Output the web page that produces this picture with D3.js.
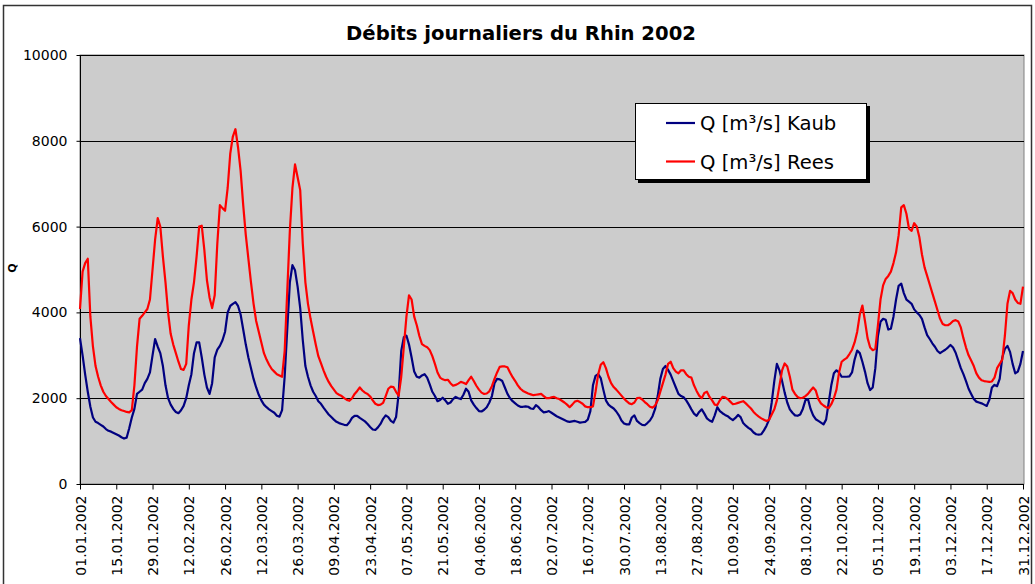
<!DOCTYPE html>
<html><head><meta charset="utf-8">
<script src="https://cdn.jsdelivr.net/npm/d3@7"></script>
<style>
body{margin:0;background:#fff}
svg{display:block}
text{font-family:"DejaVu Sans",Verdana,sans-serif;fill:#000}
</style>
</head><body>
<svg id="chart" width="1035" height="584"></svg>
<script>
const chartTitle = "Débits journaliers du Rhin 2002";
const yLabel = "Q";
const seriesNames = ["Q [m³/s] Kaub", "Q [m³/s] Rees"];
const seriesColors = ["#000080", "#ff0000"];
const startDate = [2002, 0, 1];
const yTicks = [0, 2000, 4000, 6000, 8000, 10000];
const tickStepDays = 14;

// daily discharge at Kaub, 01.01.2002 .. 31.12.2002
const kaub = [
3400,3000,2550,2150,1800,1550,1450,1420,1380,1340,1280,1240,1220,1190,
1160,1130,1090,1060,1080,1300,1550,1750,2100,2150,2200,2350,2450,2600,
3000,3380,3200,3050,2750,2300,2000,1850,1750,1680,1650,1720,1820,2000,
2300,2560,3050,3300,3300,2950,2550,2250,2100,2350,2950,3130,3220,3350,
3550,4000,4150,4200,4240,4150,3950,3600,3250,2950,2700,2450,2250,2080,
1950,1850,1790,1740,1700,1660,1590,1570,1720,2500,3600,4700,5100,4980,
4600,4100,3350,2750,2500,2300,2150,2050,1930,1870,1780,1700,1620,1560,
1500,1450,1420,1400,1380,1370,1440,1540,1590,1590,1540,1500,1460,1400,
1330,1270,1260,1320,1400,1520,1600,1560,1470,1430,1560,2100,3100,3420,
3460,3250,2950,2620,2500,2480,2530,2560,2480,2320,2150,2050,1930,1960,
2010,1950,1870,1900,1980,2030,2000,1980,2080,2220,2150,1950,1850,1770,
1700,1690,1730,1790,1900,2050,2350,2450,2440,2400,2250,2100,2000,1930,
1880,1830,1800,1800,1810,1800,1760,1750,1840,1790,1720,1670,1680,1700,
1660,1620,1580,1550,1520,1490,1460,1450,1460,1470,1450,1430,1440,1450,
1500,1700,2300,2520,2560,2470,2200,1950,1850,1800,1760,1690,1600,1480,
1410,1390,1390,1550,1600,1470,1420,1380,1370,1420,1480,1580,1750,2050,
2450,2680,2750,2660,2550,2400,2250,2100,2050,2020,1950,1850,1740,1640,
1590,1680,1740,1640,1530,1480,1450,1600,1790,1700,1650,1610,1580,1530,
1490,1540,1610,1560,1420,1360,1310,1270,1200,1160,1150,1160,1250,1360,
1500,1900,2400,2800,2650,2400,2130,1900,1740,1660,1600,1590,1620,1750,
1950,1980,1750,1600,1510,1470,1430,1390,1500,1900,2300,2580,2650,2600,
2500,2500,2500,2510,2600,2900,3110,3050,2850,2620,2350,2190,2250,2700,
3450,3780,3850,3830,3600,3620,3900,4300,4620,4670,4450,4300,4250,4200,
4070,4000,3940,3850,3650,3470,3380,3280,3200,3100,3050,3090,3130,3180,
3240,3180,3060,2880,2700,2560,2400,2220,2100,1980,1920,1900,1880,1850,
1820,1960,2250,2310,2280,2450,2950,3150,3220,3080,2800,2580,2620,2800,
3100
];

// daily discharge at Rees, 01.01.2002 .. 31.12.2002
const rees = [
4080,4950,5150,5250,3900,3200,2750,2500,2300,2150,2050,1980,1910,1850,
1790,1750,1720,1700,1680,1670,1720,2300,3200,3850,3920,4000,4080,4300,
5000,5700,6200,6000,5300,4700,4000,3500,3250,3050,2850,2680,2660,2800,
3700,4300,4700,5300,6000,6020,5450,4750,4350,4100,4400,5600,6500,6430,
6370,6900,7700,8100,8270,7850,7300,6500,5800,5250,4700,4200,3800,3550,
3300,3050,2900,2780,2680,2620,2560,2530,2500,3100,4500,5900,6900,7450,
7150,6850,5600,4700,4200,3850,3550,3250,2980,2820,2650,2500,2380,2280,
2200,2120,2080,2050,2000,1960,1940,2000,2100,2170,2250,2180,2130,2100,
2040,1950,1870,1840,1850,1890,2050,2220,2270,2260,2150,2060,2500,3200,
3900,4400,4300,3900,3700,3450,3260,3220,3190,3120,2980,2800,2600,2480,
2440,2420,2430,2350,2290,2310,2340,2380,2360,2330,2420,2500,2400,2290,
2200,2130,2100,2110,2160,2280,2450,2600,2730,2740,2740,2720,2600,2490,
2400,2300,2220,2170,2140,2110,2090,2070,2080,2090,2100,2050,2000,2000,
2020,2030,2000,1980,1940,1900,1850,1790,1850,1920,1940,1910,1870,1810,
1790,1790,1810,2150,2550,2780,2840,2700,2500,2350,2260,2200,2130,2060,
1990,1930,1880,1860,1900,2000,2010,1970,1910,1860,1800,1780,1830,1950,
2150,2350,2550,2800,2850,2700,2620,2580,2650,2650,2560,2500,2480,2300,
2170,2060,2000,2120,2150,2030,1950,1850,1840,1950,2030,2020,1980,1920,
1860,1870,1890,1910,1930,1880,1820,1760,1680,1620,1570,1530,1500,1470,
1500,1620,1740,1950,2300,2650,2810,2740,2500,2200,2100,2030,2000,2010,
2050,2100,2180,2250,2180,1980,1880,1830,1790,1770,1860,2000,2200,2600,
2850,2900,2940,3030,3130,3300,3550,3950,4160,3800,3400,3180,3120,3150,
3700,4300,4630,4780,4850,4950,5150,5400,5800,6450,6500,6300,5950,5900,
6080,6000,5750,5350,5050,4850,4650,4450,4250,4050,3850,3730,3700,3700,
3740,3800,3820,3790,3650,3400,3180,3000,2880,2750,2580,2480,2420,2400,
2390,2380,2390,2480,2700,2800,2900,3450,4200,4500,4450,4300,4220,4200,
4600
];

const margin = {left: 80, right: 1023, top: 55, bottom: 484};
const svg = d3.select("#chart");

const day0 = new Date(startDate[0], startDate[1], startDate[2]);
const dates = kaub.map((_, i) => d3.timeDay.offset(day0, i));

const x = d3.scaleTime().domain([dates[0], dates[dates.length - 1]]).range([margin.left, margin.right]);
const y = d3.scaleLinear().domain([0, 10000]).range([margin.bottom, margin.top]);

// outer border
svg.append("rect").attr("x", 3.5).attr("y", 5.5).attr("width", 1028).attr("height", 590)
  .attr("fill", "#fff").attr("stroke", "#333").attr("stroke-width", 1.5);

// plot area
svg.append("rect").attr("x", margin.left).attr("y", margin.top)
  .attr("width", margin.right + 1 - margin.left).attr("height", margin.bottom - margin.top)
  .attr("fill", "#cccccc").attr("stroke", "#808080").attr("stroke-width", 1);

// grid lines
svg.append("g").selectAll("line").data(yTicks.filter(v => v > 0)).join("line")
  .attr("x1", margin.left).attr("x2", margin.right + 1)
  .attr("y1", d => Math.round(y(d)) + 0.5).attr("y2", d => Math.round(y(d)) + 0.5)
  .attr("stroke", "#000").attr("stroke-width", 1);

// title
svg.append("text").attr("x", 521).attr("y", 40).attr("text-anchor", "middle")
  .attr("font-weight", "bold").attr("font-size", 19.6).text(chartTitle);

// y axis
const yAxis = svg.append("g").attr("transform", `translate(${margin.left + 0.5},0)`)
  .call(d3.axisLeft(y).tickValues(yTicks).tickSize(4).tickPadding(9).tickFormat(d3.format("d")));
yAxis.select(".domain").attr("stroke", "#000").attr("d", `M0,${margin.top}V${margin.bottom}`);
yAxis.selectAll(".tick line").attr("stroke", "#000");
yAxis.selectAll("text").attr("font-size", 14).attr("font-family", "DejaVu Sans");

svg.append("text").attr("transform", `translate(16,268) rotate(-90)`)
  .attr("text-anchor", "middle").attr("font-weight", "bold").attr("font-size", 11).text(yLabel);

// x axis
const xTickDates = d3.timeDay.range(dates[0], d3.timeDay.offset(dates[dates.length - 1], 1), tickStepDays);
const xAxis = svg.append("g").attr("transform", `translate(0,${margin.bottom + 0.5})`)
  .call(d3.axisBottom(x).tickValues(xTickDates).tickSize(5).tickFormat(d3.timeFormat("%d.%m.%Y")));
xAxis.select(".domain").attr("stroke", "#000").attr("d", `M${margin.left},0H${margin.right + 1}`);
xAxis.selectAll(".tick line").attr("stroke", "#000");
xAxis.selectAll("text").attr("font-size", 14).attr("font-family", "DejaVu Sans")
  .attr("transform", "rotate(-90)").attr("text-anchor", "end")
  .attr("x", -11).attr("y", 0).attr("dy", "0.36em");

// series lines
const line = d3.line().x((d, i) => x(dates[i])).y(d => y(d));
[kaub, rees].forEach((s, k) => {
  svg.append("path").datum(s).attr("d", line).attr("fill", "none")
    .attr("stroke", seriesColors[k]).attr("stroke-width", 2.2).attr("stroke-linejoin", "round");
});

// legend
const lg = svg.append("g");
lg.append("rect").attr("x", 638).attr("y", 106).attr("width", 232).attr("height", 77).attr("fill", "#000");
lg.append("rect").attr("x", 635.5).attr("y", 103.5).attr("width", 231).attr("height", 76)
  .attr("fill", "#fff").attr("stroke", "#000").attr("stroke-width", 1);
seriesNames.forEach((n, k) => {
  const yy = 123 + k * 38.5;
  lg.append("line").attr("x1", 666).attr("x2", 695).attr("y1", yy).attr("y2", yy)
    .attr("stroke", seriesColors[k]).attr("stroke-width", 2.2);
  lg.append("text").attr("x", 700).attr("y", yy).attr("dy", "0.36em")
    .attr("font-size", 19.6).text(n);
});
</script>
</body></html>
